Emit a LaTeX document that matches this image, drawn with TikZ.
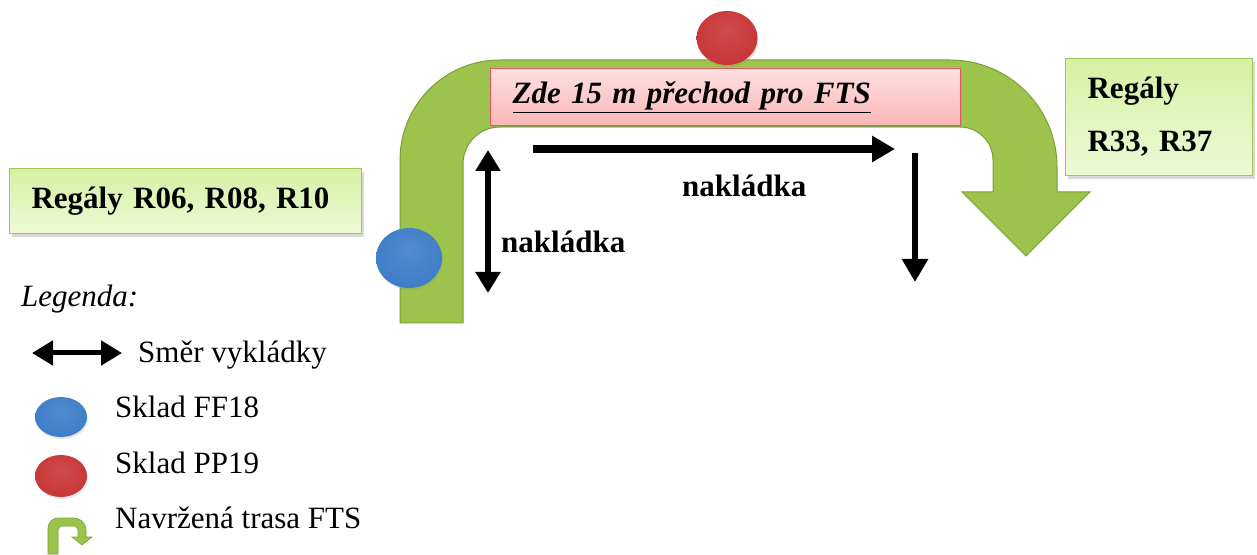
\documentclass[tikz,border=0pt]{standalone}
\usepackage{fontspec}
\setmainfont{Liberation Serif}
\usetikzlibrary{arrows.meta,shapes.geometric,shadows}

\definecolor{routegreen}{RGB}{156,196,76}
\definecolor{routeedge}{RGB}{122,160,52}
\definecolor{boxtop}{RGB}{214,240,163}
\definecolor{boxbottom}{RGB}{238,250,214}
\definecolor{boxedge}{RGB}{158,200,88}
\definecolor{passtop}{RGB}{255,224,224}
\definecolor{passbottom}{RGB}{250,182,182}
\definecolor{passedge}{RGB}{222,92,92}
\definecolor{storeblue}{RGB}{60,124,200}
\definecolor{storered}{RGB}{200,52,52}

\pgfdeclareradialshading{bluestore}{\pgfpoint{0bp}{8bp}}{color(0bp)=(storeblue!88!white); color(30bp)=(storeblue); color(44bp)=(storeblue!85!black); color(50bp)=(storeblue!60!black)}
\pgfdeclareradialshading{redstore}{\pgfpoint{0bp}{8bp}}{color(0bp)=(storered!88!white); color(30bp)=(storered); color(44bp)=(storered!85!black); color(50bp)=(storered!60!black)}

\newcommand{\bigfont}{\fontsize{31}{38}\selectfont}

\begin{document}
\begin{tikzpicture}[x=1pt, y=1pt,
    regal/.style={draw=boxedge, line width=1.2pt, top color=boxtop,
                  bottom color=boxbottom, anchor=north west, align=left,
                  font=\bigfont\bfseries, inner xsep=22pt, inner ysep=0pt,
                  drop shadow={shadow xshift=2pt, shadow yshift=-3pt, opacity=0.3}},
    passbox/.style={draw=passedge, line width=1.2pt, top color=passtop,
                    bottom color=passbottom, anchor=north west, align=left,
                    font=\bigfont\bfseries\itshape, inner xsep=22pt, inner ysep=0pt,
                    drop shadow={shadow xshift=1pt, shadow yshift=-2pt, opacity=0.2}},
    store/.style={ellipse, inner sep=0pt,
                  drop shadow={shadow xshift=1pt, shadow yshift=-2pt, opacity=0.2}},
    route/.style={fill=routegreen, draw=routeedge, line width=1pt},
    lbl/.style={font=\bigfont\bfseries, inner sep=0pt, anchor=base west},
    legtext/.style={font=\bigfont, inner sep=0pt, anchor=base west},
    oneway/.style={line width=#1, -{Triangle[length=23pt, width=25pt]}},
    twoway/.style={line width=#1, {Triangle[length=21pt, width=24pt]}-{Triangle[length=21pt, width=24pt]}},
  ]
  \useasboundingbox (0,0) rectangle (1257,554);

  % navrzena trasa FTS
  \draw[route] (400,231) -- (400,394) arc[start angle=180, end angle=90, radius=100pt]
    -- (950,494) arc[start angle=90, end angle=0, radius=107pt]
    -- (1057,362) -- (1090,362) -- (1026,298) -- (962,362) -- (993,362)
    -- (993,394) arc[start angle=0, end angle=90, radius=33pt]
    -- (500,427) arc[start angle=90, end angle=180, radius=37pt]
    -- (463,231) -- cycle;

  \node[passbox, minimum width=470pt, minimum height=57pt, text width=426pt]
    (pass) at (490,486) {\underline{Zde 15 m přechod pro FTS}};

  \node[regal, minimum width=352pt, minimum height=65pt, text width=308pt]
    (regalleft) at (9,386) {Regály R06, R08, R10};
  \node[regal, minimum width=187pt, minimum height=117pt, text width=143pt]
    (regalright) at (1065,496) {Regály\\[15pt]R33, R37};

  \node[store, shading=redstore, minimum width=61pt, minimum height=54pt] (pp) at (727,516) {};
  \node[store, shading=bluestore, minimum width=66pt, minimum height=60pt] (ff) at (409,296) {};

  % smery nakladky
  \coordinate (vbot) at (488,261);
  \coordinate (vtop) at (488,404);
  \coordinate (hstart) at (533,405);
  \coordinate (hend) at (895,405);
  \coordinate (dstart) at (915,401);
  \coordinate (dend) at (915,272);
  \draw[twoway=6pt] (vbot) -- (vtop);
  \draw[oneway=8pt] (hstart) -- (hend);
  \draw[oneway=6pt] (dstart) -- (dend);
  \node[lbl] (loadleft) at (501,301) {nakládka};
  \node[lbl] (loadtop) at (682,357) {nakládka};

  % legenda
  \node[font=\bigfont\itshape, inner sep=0pt, anchor=base west] (legend) at (21,247) {Legenda:};
  \coordinate (legl) at (32,201);
  \coordinate (legr) at (122,201);
  \draw[twoway=5pt] (legl) -- (legr);
  \node[legtext] (legdir) at (138,191) {Směr vykládky};
  \node[store, shading=bluestore, minimum width=52pt, minimum height=40pt] (legff) at (61,137) {};
  \node[legtext] (legfftext) at (115,136) {Sklad FF18};
  \node[store, shading=redstore, minimum width=52pt, minimum height=42pt] (legpp) at (61,78) {};
  \node[legtext] (legpptext) at (115,81) {Sklad PP19};
  \draw[route, line width=0.6pt] (48,0) -- (48,26) arc[start angle=180, end angle=90, radius=10pt]
    -- (74,36) arc[start angle=90, end angle=0, radius=12pt]
    -- (86,17) -- (92,17) -- (82,9) -- (72,17) -- (78,17)
    -- (78,24) arc[start angle=0, end angle=90, radius=4pt]
    -- (62,28) arc[start angle=90, end angle=180, radius=4pt]
    -- (58,0) -- cycle;
  \node[legtext] (legroute) at (115,26) {Navržená trasa FTS};
\end{tikzpicture}
\end{document}
